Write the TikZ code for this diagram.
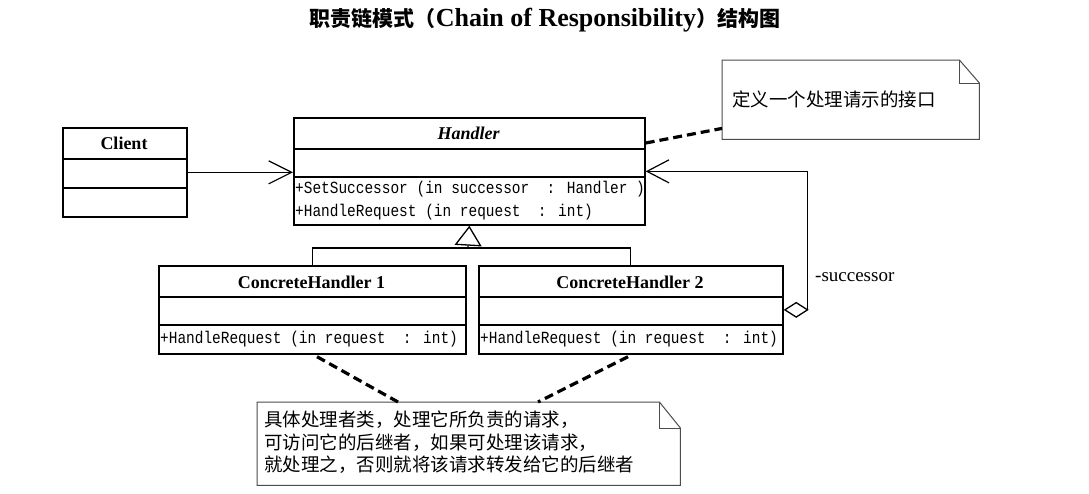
\documentclass[tikz,border=0pt]{standalone}
\usepackage{fontspec}
\setmainfont{Liberation Serif}
\newfontfamily\cjk{Noto Sans CJK SC}
\newfontfamily\codefont[FakeStretch=0.85]{Liberation Mono}
\usetikzlibrary{arrows.meta,calc}
\begin{document}
\begin{tikzpicture}[x=1pt,y=-1pt,
  box/.style={draw, line width=1.7pt, inner sep=0pt, anchor=north west},
  divider/.style={line width=1.7pt},
  clsname/.style={font=\bfseries\fontsize{18}{20}\selectfont, inner sep=0pt},
  method/.style={anchor=west, inner sep=0pt, font=\codefont\fontsize{17}{19}\selectfont},
  conn/.style={line width=1.2pt},
  notebox/.style={inner sep=0pt, anchor=north west},
  notebd/.style={draw=black!70, line width=1pt},
  notelink/.style={line width=3.2pt, dash pattern=on 9pt off 5pt},
  notetext/.style={anchor=west, inner sep=0pt, align=left, font=\cjk\fontsize{18.5}{22.5}\selectfont}
]
\useasboundingbox (0,0) rectangle (1089,493);
\fill[white] (0,0) rectangle (1089,493);

% title
\node[inner sep=0pt] (title) at (545,20) {{\cjk\bfseries\fontsize{21}{25}\selectfont 职责链模式（}{\bfseries\fontsize{26}{30}\selectfont Chain of Responsibility}{\cjk\bfseries\fontsize{21}{25}\selectfont ）结构图}};

% Client
\node[box, minimum width=124pt, minimum height=89pt] (client) at (62,127) {};
\draw[divider] ($(client.north west)+(0,32)$) -- ($(client.north east)+(0,32)$);
\draw[divider] ($(client.north west)+(0,61)$) -- ($(client.north east)+(0,61)$);
\node[clsname] (clientname) at (124,143) {Client};

% Handler
\node[box, minimum width=351pt, minimum height=107pt] (handler) at (293,117) {};
\draw[divider] ($(handler.north west)+(0,32)$) -- ($(handler.north east)+(0,32)$);
\draw[divider] ($(handler.north west)+(0,60)$) -- ($(handler.north east)+(0,60)$);
\node[clsname, font=\bfseries\itshape\fontsize{18}{20}\selectfont] (handlername) at (468.5,133) {Handler};
\node[method] (hm1) at (295,189) {+SetSuccessor (in successor~~: Handler~)};
\node[method] (hm2) at (295,212) {+HandleRequest (in request~~: int)};

% ConcreteHandler 1
\node[box, minimum width=307pt, minimum height=88pt] (ch1) at (158,265) {};
\draw[divider] ($(ch1.north west)+(0,32)$) -- ($(ch1.north east)+(0,32)$);
\draw[divider] ($(ch1.north west)+(0,60)$) -- ($(ch1.north east)+(0,60)$);
\node[clsname] (ch1name) at (311.5,282) {ConcreteHandler 1};
\node[method] (ch1m) at (160,339) {+HandleRequest (in request~~: int)};

% ConcreteHandler 2
\node[box, minimum width=304pt, minimum height=88pt] (ch2) at (478,265) {};
\draw[divider] ($(ch2.north west)+(0,32)$) -- ($(ch2.north east)+(0,32)$);
\draw[divider] ($(ch2.north west)+(0,60)$) -- ($(ch2.north east)+(0,60)$);
\node[clsname] (ch2name) at (630,282) {ConcreteHandler 2};
\node[method] (ch2m) at (480,339) {+HandleRequest (in request~~: int)};

% Client -> Handler
\draw[conn, -{Straight Barb[length=23pt, width=23pt, line width=1.2pt]}] (client.east) -- (client.east -| handler.west);

% generalization
\coordinate (gen) at (468,248);
\draw[conn] (ch1.north) |- (gen) -| (ch2.north);
\draw[conn, -{Triangle[open, length=20pt, width=27pt, line width=1.3pt]}] (gen) -- (handler.south);

% aggregation successor
\draw[conn, {Diamond[open, length=25pt, width=16pt, line width=1.3pt]}-{Straight Barb[length=22pt, width=23pt, line width=1.2pt]}] (ch2.east) -- ++(24,0) |- (handler.east);
\node[anchor=west, inner sep=0pt, font=\fontsize{19}{22}\selectfont] (succ) at (815,277) {-successor};

% note 1
\node[notebox, minimum width=257pt, minimum height=79pt] (note1) at (722,60) {};
\draw[notebd] (note1.north west) -- ($(note1.north east)+(-20,0)$) -- ($(note1.north east)+(0,23)$) -- (note1.south east) -- (note1.south west) -- cycle;
\draw[notebd] ($(note1.north east)+(-20,0)$) -- ($(note1.north east)+(-20,23)$) -- ($(note1.north east)+(0,23)$);
\node[notetext] (note1text) at (732,99) {定义一个处理请示的接口};
\draw[notelink] ($(handler.north east)+(0,26)$) -- ($(note1.south west)+(0,-11)$);

% note 2
\node[notebox, minimum width=423pt, minimum height=83pt] (note2) at (257,402) {};
\draw[notebd] (note2.north west) -- ($(note2.north east)+(-21,0)$) -- ($(note2.north east)+(0,26)$) -- (note2.south east) -- (note2.south west) -- cycle;
\draw[notebd] ($(note2.north east)+(-21,0)$) -- ($(note2.north east)+(-21,26)$) -- ($(note2.north east)+(0,26)$);
\node[notetext, anchor=north west] (note2text) at (264,411) {具体处理者类，处理它所负责的请求，\\可访问它的后继者，如果可处理该请求，\\就处理之，否则就将该请求转发给它的后继者};
\draw[notelink] ($(ch1.south west)+(159,2)$) -- ($(note2.north west)+(141,0)$);
\draw[notelink] ($(ch2.south west)+(150,2)$) -- ($(note2.north west)+(281,0)$);
\end{tikzpicture}
\end{document}
